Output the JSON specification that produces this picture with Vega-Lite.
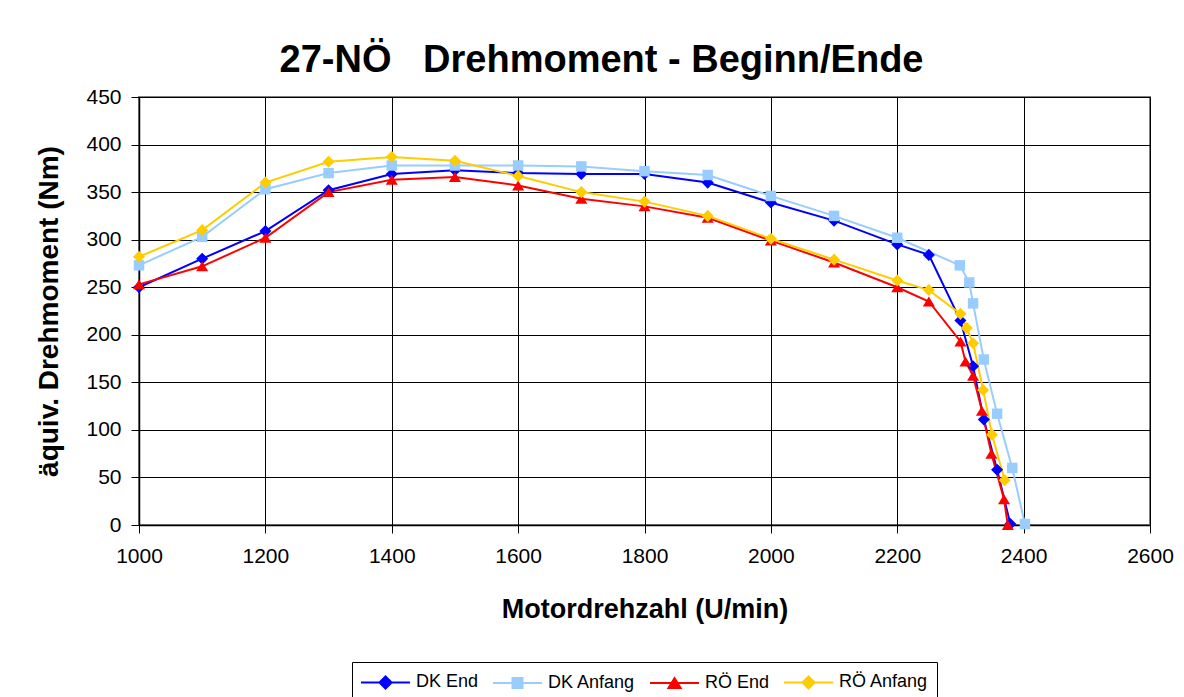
{
  "$schema": "https://vega.github.io/schema/vega-lite/v6.json",
  "width": 1011,
  "height": 428,
  "autosize": {"type": "none"},
  "padding": {"left": 139, "top": 97, "right": 34, "bottom": 172},
  "background": "white",
  "title": {
    "text": "27-NÖ\u00a0\u00a0\u00a0Drehmoment - Beginn/Ende",
    "font": "Liberation Sans",
    "fontSize": 38,
    "fontWeight": "bold",
    "color": "black",
    "anchor": "middle",
    "frame": "group",
    "dx": -43,
    "offset": 6
  },
  "config": {
    "font": "Liberation Sans",
    "view": {"stroke": "#808080", "strokeWidth": 2}
  },
  "data": {
    "values": [
      {"series": "DK End", "rpm": 1000, "nm": 250},
      {"series": "DK End", "rpm": 1100, "nm": 280},
      {"series": "DK End", "rpm": 1200, "nm": 309},
      {"series": "DK End", "rpm": 1300, "nm": 352},
      {"series": "DK End", "rpm": 1400, "nm": 369},
      {"series": "DK End", "rpm": 1500, "nm": 373},
      {"series": "DK End", "rpm": 1600, "nm": 370},
      {"series": "DK End", "rpm": 1700, "nm": 369},
      {"series": "DK End", "rpm": 1800, "nm": 369},
      {"series": "DK End", "rpm": 1900, "nm": 360},
      {"series": "DK End", "rpm": 2000, "nm": 339},
      {"series": "DK End", "rpm": 2100, "nm": 320},
      {"series": "DK End", "rpm": 2200, "nm": 295},
      {"series": "DK End", "rpm": 2250, "nm": 284},
      {"series": "DK End", "rpm": 2300, "nm": 215},
      {"series": "DK End", "rpm": 2320, "nm": 167},
      {"series": "DK End", "rpm": 2337, "nm": 111},
      {"series": "DK End", "rpm": 2358, "nm": 58},
      {"series": "DK End", "rpm": 2379, "nm": 1},
      {"series": "DK Anfang", "rpm": 1000, "nm": 273},
      {"series": "DK Anfang", "rpm": 1100, "nm": 303},
      {"series": "DK Anfang", "rpm": 1200, "nm": 353},
      {"series": "DK Anfang", "rpm": 1300, "nm": 370},
      {"series": "DK Anfang", "rpm": 1400, "nm": 378},
      {"series": "DK Anfang", "rpm": 1500, "nm": 378},
      {"series": "DK Anfang", "rpm": 1600, "nm": 378},
      {"series": "DK Anfang", "rpm": 1700, "nm": 377},
      {"series": "DK Anfang", "rpm": 1800, "nm": 372},
      {"series": "DK Anfang", "rpm": 1900, "nm": 368},
      {"series": "DK Anfang", "rpm": 2000, "nm": 346},
      {"series": "DK Anfang", "rpm": 2100, "nm": 325},
      {"series": "DK Anfang", "rpm": 2200, "nm": 302},
      {"series": "DK Anfang", "rpm": 2299, "nm": 273},
      {"series": "DK Anfang", "rpm": 2314, "nm": 255},
      {"series": "DK Anfang", "rpm": 2320, "nm": 233},
      {"series": "DK Anfang", "rpm": 2337, "nm": 174},
      {"series": "DK Anfang", "rpm": 2358, "nm": 117},
      {"series": "DK Anfang", "rpm": 2382, "nm": 60},
      {"series": "DK Anfang", "rpm": 2402, "nm": 1},
      {"series": "RÖ End", "rpm": 1000, "nm": 253},
      {"series": "RÖ End", "rpm": 1100, "nm": 272},
      {"series": "RÖ End", "rpm": 1200, "nm": 302},
      {"series": "RÖ End", "rpm": 1300, "nm": 350},
      {"series": "RÖ End", "rpm": 1400, "nm": 363},
      {"series": "RÖ End", "rpm": 1500, "nm": 366},
      {"series": "RÖ End", "rpm": 1600, "nm": 357},
      {"series": "RÖ End", "rpm": 1700, "nm": 343},
      {"series": "RÖ End", "rpm": 1800, "nm": 335},
      {"series": "RÖ End", "rpm": 1900, "nm": 323},
      {"series": "RÖ End", "rpm": 2000, "nm": 299},
      {"series": "RÖ End", "rpm": 2100, "nm": 276},
      {"series": "RÖ End", "rpm": 2200, "nm": 250},
      {"series": "RÖ End", "rpm": 2250, "nm": 235},
      {"series": "RÖ End", "rpm": 2300, "nm": 193},
      {"series": "RÖ End", "rpm": 2308, "nm": 172},
      {"series": "RÖ End", "rpm": 2320, "nm": 157},
      {"series": "RÖ End", "rpm": 2334, "nm": 120},
      {"series": "RÖ End", "rpm": 2349, "nm": 75},
      {"series": "RÖ End", "rpm": 2369, "nm": 27},
      {"series": "RÖ End", "rpm": 2375, "nm": 0},
      {"series": "RÖ Anfang", "rpm": 1000, "nm": 282},
      {"series": "RÖ Anfang", "rpm": 1100, "nm": 310},
      {"series": "RÖ Anfang", "rpm": 1200, "nm": 360},
      {"series": "RÖ Anfang", "rpm": 1300, "nm": 382},
      {"series": "RÖ Anfang", "rpm": 1400, "nm": 387},
      {"series": "RÖ Anfang", "rpm": 1500, "nm": 383},
      {"series": "RÖ Anfang", "rpm": 1600, "nm": 367},
      {"series": "RÖ Anfang", "rpm": 1700, "nm": 350},
      {"series": "RÖ Anfang", "rpm": 1800, "nm": 340},
      {"series": "RÖ Anfang", "rpm": 1900, "nm": 325},
      {"series": "RÖ Anfang", "rpm": 2000, "nm": 301},
      {"series": "RÖ Anfang", "rpm": 2100, "nm": 279},
      {"series": "RÖ Anfang", "rpm": 2200, "nm": 257},
      {"series": "RÖ Anfang", "rpm": 2250, "nm": 247},
      {"series": "RÖ Anfang", "rpm": 2300, "nm": 222},
      {"series": "RÖ Anfang", "rpm": 2310, "nm": 207},
      {"series": "RÖ Anfang", "rpm": 2320, "nm": 191},
      {"series": "RÖ Anfang", "rpm": 2336, "nm": 142},
      {"series": "RÖ Anfang", "rpm": 2350, "nm": 95},
      {"series": "RÖ Anfang", "rpm": 2370, "nm": 47}
    ]
  },
  "encoding": {
    "x": {
      "field": "rpm",
      "type": "quantitative",
      "scale": {"domain": [1000, 2600], "nice": false, "zero": false},
      "axis": {
        "title": "Motordrehzahl (U/min)",
        "values": [1000, 1200, 1400, 1600, 1800, 2000, 2200, 2400, 2600],
        "format": "d",
        "grid": true,
        "gridColor": "black",
        "gridWidth": 1,
        "gridOpacity": 1,
        "domainColor": "black",
        "domainWidth": 1.5,
        "tickColor": "black",
        "tickSize": 8,
        "tickWidth": 1,
        "labelFont": "Liberation Sans",
        "labelFontSize": 21,
        "labelColor": "black",
        "labelPadding": 12,
        "labelFlush": false,
        "labelOverlap": false,
        "titleFont": "Liberation Sans",
        "titleFontSize": 27,
        "titleFontWeight": "bold",
        "titleColor": "black",
        "titlePadding": 30
      }
    },
    "y": {
      "field": "nm",
      "type": "quantitative",
      "scale": {"domain": [0, 450], "nice": false},
      "axis": {
        "title": "äquiv. Drehmoment (Nm)",
        "values": [0, 50, 100, 150, 200, 250, 300, 350, 400, 450],
        "grid": true,
        "gridColor": "black",
        "gridWidth": 1,
        "gridOpacity": 1,
        "domainColor": "black",
        "domainWidth": 1.5,
        "tickColor": "black",
        "tickSize": 8,
        "tickWidth": 1,
        "labelFont": "Liberation Sans",
        "labelFontSize": 21,
        "labelColor": "black",
        "labelPadding": 10,
        "labelFlush": false,
        "labelOverlap": false,
        "titleFont": "Liberation Sans",
        "titleFontSize": 28,
        "titleFontWeight": "bold",
        "titleColor": "black",
        "titlePadding": 22
      }
    }
  },
  "layer": [
    {
      "mark": {"type": "line", "strokeWidth": 2},
      "encoding": {
        "color": {
          "field": "series",
          "type": "nominal",
          "scale": {
            "domain": ["DK End", "DK Anfang", "RÖ End", "RÖ Anfang"],
            "range": ["#0000FF", "#99CCFF", "#FF0000", "#FFCC00"]
          },
          "legend": {
            "orient": "none",
            "legendX": 213,
            "legendY": 565,
            "direction": "horizontal",
            "columns": 4,
            "title": null,
            "labelFont": "Liberation Sans",
            "labelFontSize": 18,
            "labelColor": "black",
            "labelOffset": 32,
            "columnPadding": 10,
            "padding": 8,
            "symbolSize": 484,
            "symbolStrokeWidth": 2,
            "strokeColor": "black",
            "fillColor": "white",
            "encode": {
              "symbols": {
                "update": {
                  "shape": {"signal": "datum.value == 'DK Anfang' ? 'M-1,0H3.45M0.77,-0.45H1.68V0.45H0.77Z' : datum.value == 'RÖ End' ? 'M-1,0H3.45M1.23,-0.45L1.78,0.45L0.68,0.45Z' : 'M-1,0H3.45M1.23,-0.55L1.78,0L1.23,0.55L0.68,0Z'"},
                  "fill": {"signal": "datum.value == 'DK End' ? '#0000FF' : datum.value == 'DK Anfang' ? '#99CCFF' : datum.value == 'RÖ End' ? '#FF0000' : '#FFCC00'"},
                  "opacity": {"value": 1},
                  "fillOpacity": {"value": 1},
                  "strokeWidth": {"value": 2}
                }
              }
            }
          }
        }
      }
    },
    {
      "mark": {"type": "point", "filled": true, "size": 110, "opacity": 1},
      "encoding": {
        "fill": {
          "field": "series",
          "type": "nominal",
          "scale": {
            "domain": ["DK Anfang", "DK End", "RÖ Anfang", "RÖ End"],
            "range": ["#99CCFF", "#0000FF", "#FFCC00", "#FF0000"]
          },
          "legend": null
        },
        "shape": {
          "field": "series",
          "type": "nominal",
          "scale": {
            "domain": ["DK Anfang", "DK End", "RÖ Anfang", "RÖ End"],
            "range": ["square", "M0,-1.15L1.15,0L0,1.15L-1.15,0Z", "M0,-1.15L1.15,0L0,1.15L-1.15,0Z", "M0,-0.95L1.15,0.95L-1.15,0.95Z"]
          },
          "legend": null
        }
      }
    }
  ]
}
